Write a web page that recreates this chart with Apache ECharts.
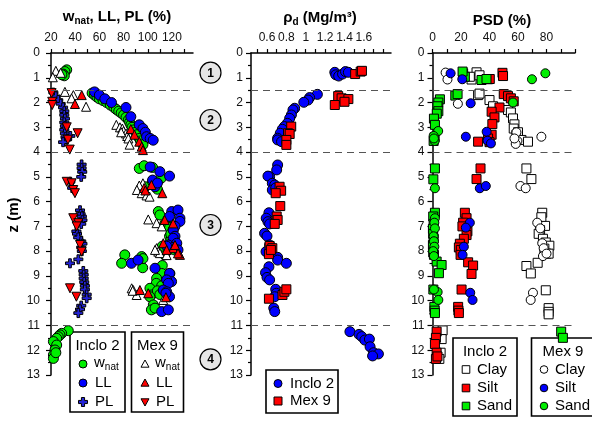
<!DOCTYPE html>
<html><head><meta charset="utf-8">
<script src="https://cdn.jsdelivr.net/npm/echarts@6/dist/echarts.min.js"></script>
<style>html,body{margin:0;padding:0;background:#fff}#c{width:592px;height:421px}</style>
</head><body><div id="c"></div>
<script>
// ---------- data: [value, depth z (m)] ----------
const zTicks = [0,1,2,3,4,5,6,7,8,9,10,11,12,13];
const boundaries = [1.5, 4, 11];
const p1Labels = [20,40,60,80,100,120];
const p2Labels = [0.6,0.8,1,1.2,1.4,1.6];
const p3Labels = [0,20,40,60,80];

// Panel 1: w_nat, LL, PL (%)
const i2Wnat = [[33,0.68],[31.5,0.75],[30,0.85],[31,0.92],[29,0.88],
[54,1.62],[56,1.7],[58,1.78],[60,1.85],[63,1.92],[66,2.0],[69,2.1],[72,2.2],[74,2.28],[76,2.35],[78,2.42],[80,2.5],[82,2.6],[84,2.7],[85,2.8],[86,2.9],[87,3.0],[89,3.1],[90,3.2],[91,3.3],[93,3.45],[94,3.55],[96,3.7],
[93,4.66],[97,4.55],[104,4.62],[111,5.06],[98,5.4],[104,5.2],[108,5.5],
[108.7,6.4],[110,6.54],[116.7,6.7],[114,6.9],[118,7.05],[121,7.15],[118,7.4],[119,7.55],[121,7.6],[116,7.9],[114,8.15],[112,7.8],[119,7.3],[122,7.95],
[81,8.15],[78.4,8.49],[95,8.22],[95.8,8.67],[112,8.58],[96,8.3],
[111.5,8.9],[118.3,8.9],[107.3,9.1],[107,9.3],[101.8,9.5],[103,9.77],[101.8,9.84],[104.6,10.17],[103,10.37],[111.5,9.4],[108,9.6],[106,10.3],[110,9.75],
[34.3,11.21],[28.8,11.32],[27.4,11.38],[26,11.45],[24.7,11.52],[22,11.65],[24.7,11.79],[23.3,11.99],[22,12.19],[22,12.33],[24,12.1]];
const i2LL = [[56,1.57],[60,1.7],[64.5,1.85],[70,2.0],[82,2.2],[86,2.57],[93,2.9],[96,3.05],[98,3.2],[99,3.38],[102,3.45],[104.5,3.52],
[102,4.6],[110,4.79],[118,4.97],[104,5.13],[106,5.4],[108,5.25],
[119.8,6.4],[125,6.34],[118,6.6],[126.6,6.67],[126.6,6.8],[122.5,7.0],[121,7.15],[122.5,7.4],[121,7.48],[117,7.75],[124,7.68],[125,7.95],[121,7.85],[115.6,7.8],
[86.5,8.49],[92,8.36],[106,8.69],
[118,8.9],[119.7,9.23],[115.6,9.16],[117,9.3],[112.8,9.57],[115.6,9.64],[118,9.84],[111.5,10.44],[117,10.37],[115,9.7]];
const i2PL = [[22,1.6],[24,1.75],[26,1.9],[28,2.05],[30,2.2],[31,2.35],[31,2.5],[31.5,2.65],[31,2.8],[31.5,2.95],[31,3.1],[31.5,3.25],[32,3.4],[33,3.5],[36,3.35],[30,3.6],
[45.3,4.5],[45.3,4.65],[45.8,4.8],[45,5.0],[36,5.2],[37.5,5.45],
[44,6.35],[44.5,6.5],[45.5,6.6],[46,6.75],[45,6.9],[41,7.2],[41.5,7.3],[42.5,7.45],[45,7.6],[46,7.7],[45,7.85],[45.5,8.0],[35.7,8.49],[42.6,8.33],
[46.7,8.8],[47,8.95],[47,9.1],[47.5,9.25],[48,9.4],[48,9.55],[49.5,9.75],[49.5,9.9],[45,10.2],[44,10.35],[42.6,10.5]];
const m9Wnat = [[24,0.72],[21.5,0.98],[28,0.8],
[31.5,1.57],[38.5,1.7],[37,1.83],[49,2.17],
[74,2.9],[77,3.0],[79,3.05],[80,3.15],[82,3.25],[83,3.35],[84,3.45],[85,3.7],[78,3.2],
[96,5.26],[93,5.35],[91,5.53],[95,5.66],[99,5.75],[101.5,5.8],
[100.4,6.72],[107.3,6.87],[111.5,7.0],[107.3,7.88],[108.7,8.02],[110,8.08],[115.6,8.16],[106,7.95],
[86.7,9.5],[88,9.57],[90.8,9.77],[112.8,9.97],[87.5,9.6]];
const m9LL = [[45.4,1.7],[39.8,2.06],
[86,3.07],[89,3.3],[93,3.58],[95,3.78],[96,3.92],
[103,5.33],[97,5.45],[98,5.55],[112,5.66],
[114,6.74],[121,6.88],[112.8,7.68],[121,7.88],[126.6,8.15],[115.6,7.95],[122.5,7.75],[125,8.09],
[93.5,9.57],[100.4,9.7],[115,9.86]];
const m9PL = [[20.5,1.62],[21,1.97],[21,2.1],[33,3.0],[42,3.24],[34,3.5],[35.5,3.9],
[33,5.2],[37,5.26],[38.4,5.53],[39.8,5.66],
[38.4,6.67],[42.6,6.87],[41.2,7.0],[44,7.75],[45.3,8.02],
[35.7,9.5],[41,9.84]];

// Panel 2: rho_d (Mg/m3)
const i2Rho = [[1.30,0.78],[1.31,0.88],[1.34,0.93],[1.38,0.85],[1.41,0.75],[1.44,0.78],
[1.12,1.67],[1.04,1.8],[1.024,1.9],[0.98,1.99],[0.886,2.23],[0.868,2.3],[0.852,2.5],[0.834,2.64],[0.81,2.84],[0.78,2.97],[0.758,3.08],[0.737,3.24],[0.71,3.44],[0.71,3.51],[0.75,3.58],
[0.71,4.52],[0.70,4.72],[0.627,4.99],[0.61,4.97],[0.655,5.26],[0.68,5.33],[0.655,5.53],[0.69,5.45],
[0.62,6.45],[0.592,6.67],[0.61,6.81],[0.627,6.9],[0.575,7.28],[0.6,7.39],
[0.627,7.75],[0.59,8.02],[0.71,8.25],[0.71,8.36],[0.80,8.49],[0.62,8.63],
[0.585,8.87],[0.6,9.06],[0.627,9.16],[0.69,9.54],[0.696,9.7],[0.68,9.84],[0.67,10.3],[0.68,10.44],
[1.456,11.25],[1.55,11.36],[1.578,11.45],[1.61,11.59],[1.657,11.55],[1.664,11.86],[1.70,12.1],[1.75,12.15],[1.69,12.23]];
const m9Rho = [[1.51,0.85],[1.567,0.75],[1.58,0.72],
[1.335,1.74],[1.37,1.83],[1.44,1.86],[1.40,1.97],[1.30,2.1],
[0.85,2.97],[0.817,3.24],[0.834,3.27],[0.80,3.51],[0.80,3.71],
[0.73,5.4],[0.746,5.56],[0.69,5.66],[0.737,6.18],
[0.70,6.6],[0.71,6.74],[0.68,6.9],
[0.627,7.79],[0.655,7.88],[0.62,8.12],[0.64,7.95],
[0.62,9.92],[0.76,9.77],[0.78,9.64],[0.80,9.54]];

// Panel 3: PSD (%)
const i2Clay = [[30.9,0.78],[27.4,1.07],[26.2,0.96],[33,0.9],
[32,1.7],[33,1.64],[40,1.9],[42.5,2.15],[53,2.3],[55,2.4],[56.5,2.64],[57.5,2.88],[57,3.05],[58.9,3.3],[60,3.2],[62.4,3.51],[67,3.58],
[65.9,4.66],[69.4,5.09],
[77,6.45],[76.4,6.63],[79,6.98],[75.5,7.15],[74.5,7.3],[77.5,7.5],[79.5,7.65],[82,7.78],[78.5,7.9],[80,8.1],[81.5,8.1],[73.8,8.47],[65.9,8.6],[69,8.9],
[79.5,9.58],[81.5,10.3],[81.5,10.45],[81.5,10.55],
[7.1,11.2],[6.4,11.55],[5.7,12.1],[4.8,12.35]];
const i2Silt = [[39,1.06],[49.1,0.8],[49.5,0.93],[40.2,1.05],
[50,1.66],[53,1.74],[55,1.83],[57,1.95],[47,2.2],[41.5,2.37],[43.5,2.6],[42,2.87],[41.5,3.3],[39,3.45],[32,3.58],[40,3.6],
[33.7,4.66],[30.9,5.09],
[22.7,6.45],[23.9,6.67],[21.5,6.85],[21,7.0],[24.5,7.2],[23.9,7.35],[22,7.5],[19.2,7.7],[18.5,7.85],[19.9,7.95],[19.7,8.15],[25,8.45],[28.5,8.58],[27.4,8.92],
[20.4,9.55],[18,10.25],[18.2,10.4],[18.5,10.5],
[2.9,11.25],[2.4,11.5],[1.7,11.75],[2.9,12.1],[2.4,12.35],[3.5,12.25]];
const i2Sand = [[21.5,0.82],[22.7,0.96],[34.4,1.09],[37.9,1.05],[21.1,0.75],
[16,1.72],[17.6,1.66],[5.2,1.87],[4.1,2.0],[3.5,2.15],[4.1,2.35],[3,2.45],[1,2.65],[1.7,2.9],[0.8,3.55],[1.5,3.4],
[1.7,4.66],[0.6,5.1],
[1.7,6.45],[0.5,6.6],[0.8,6.9],[0.3,7.1],[0.5,7.3],[0.8,7.5],[0.3,7.75],[0.5,8.05],[1,8.15],[2.9,8.42],[6.4,8.56],[4.5,8.89],
[0.6,9.55],[1.3,10.25],[1.5,10.4],[1.7,10.5],
[90.3,11.25],[91.5,11.5]];
const m9Clay = [[9.2,0.79],[10.5,1.07],
[17.8,2.05],[58.9,3.2],[59.6,3.55],[58.4,3.67],[76.4,3.38],[57.5,3.45],
[61.7,5.37],[65.4,5.46],
[73.5,6.85],[75.6,7.08],[77,7.68],[78,7.88],[77.5,8.2],[80,8.1],
[70.5,9.68],[68.9,9.97]];
const m9Silt = [[12.7,0.82],[20.9,1.06],
[26.8,2.03],[23.4,3.38],[38,3.18],[38.6,3.54],[41,3.65],
[33.2,5.46],[37.4,5.37],
[26.2,6.85],[23.4,7.05],[22,7.82],[21.1,8.15],
[26.5,9.68],[28.1,9.97]];
const m9Sand = [[69.8,1.06],[79.2,0.82],
[56.5,2.0],[4,3.15],[0.8,3.35],[1.5,3.55],[1,3.45],
[1.7,5.46],
[1.7,6.67],[1.3,6.85],[1.7,7.08],[0.8,7.4],[1,7.6],[1.3,7.82],[0.5,8.0],[1,8.2],
[3.6,9.65],[4.1,9.97],[1,9.55]];

// ---------- styling ----------
const FONT = 'Liberation Sans, Arial, sans-serif';
const GREEN = '#00ee00', BLUE = '#0000ff', RED = '#ff0000', PLUSC = '#2424d8';
const PLUS = 'path://M35,0H65V35H100V65H65V100H35V65H0V35H35Z';
const TRI_DN = 'path://M0,0L100,0L50,87Z';
const TRI_UP = 'path://M50,0L100,87L0,87Z';

const chart = echarts.init(document.getElementById('c'), null, {renderer: 'canvas'});

const grids = [
  {left: 51, top: 53, width: 142, height: 322},
  {left: 251, top: 53, width: 140, height: 322},
  {left: 432.5, top: 53, width: 142.5, height: 322}
];
function range(a, b, s) { const r = []; for (let v = a; v <= b + 1e-9; v += s) r.push(+v.toFixed(3)); return r; }
function xAx(i, min, max, labels, ticks, fmt) {
  return {
    gridIndex: i, type: 'value', position: 'top', min, max,
    axisLine: {show: true, onZero: false, lineStyle: {color: '#000', width: 1.5}},
    axisTick: {show: true, length: 4, lineStyle: {color: '#000', width: 1.2}, customValues: ticks},
    axisLabel: {show: true, customValues: labels, margin: 9, fontSize: 12, color: '#111', fontFamily: FONT,
      formatter: fmt || (v => String(v))},
    splitLine: {show: false}
  };
}
function yAx(i, margin) {
  return {
    gridIndex: i, type: 'value', inverse: true, min: 0, max: 13, interval: 1,
    axisLine: {show: true, onZero: false, lineStyle: {color: '#000', width: 1.5}},
    axisTick: {show: true, length: 5, lineStyle: {color: '#000', width: 1.2}},
    minorTick: {show: true, splitNumber: 2, length: 3, lineStyle: {color: '#000', width: 1.2}},
    axisLabel: {margin, fontSize: 12, color: '#111', fontFamily: FONT},
    splitLine: {show: false}
  };
}
function sc(i, data, symbol, size, color, rotate) {
  return {
    type: 'scatter', xAxisIndex: i, yAxisIndex: i, data, symbol, symbolSize: size,
    symbolRotate: rotate || 0, clip: false, silent: true,
    itemStyle: {color, borderColor: '#000', borderWidth: 1, opacity: 1}
  };
}
function dashLines(s) {
  s.markLine = {silent: true, symbol: 'none', label: {show: false},
    lineStyle: {color: '#555', type: [7, 5], width: 1.2},
    data: boundaries.map(b => ({yAxis: b}))};
  return s;
}

const series = [
  dashLines(sc(0, i2Wnat, 'circle', 10, GREEN)),
  sc(0, i2LL, 'circle', 10, BLUE),
  sc(0, i2PL, PLUS, 9, PLUSC),
  sc(0, m9Wnat, TRI_UP, 9, '#fff'),
  sc(0, m9LL, TRI_UP, 9, RED),
  sc(0, m9PL, TRI_DN, 9, RED),
  dashLines(sc(1, i2Rho, 'circle', 10, BLUE)),
  sc(1, m9Rho, 'rect', 9, RED),
  dashLines(sc(2, i2Clay, 'rect', 9, '#fff')),
  sc(2, i2Silt, 'rect', 9, RED),
  sc(2, i2Sand, 'rect', 9, GREEN),
  sc(2, m9Clay, 'circle', 9, '#fff'),
  sc(2, m9Silt, 'circle', 9, BLUE),
  sc(2, m9Sand, 'circle', 9, GREEN)
];

// ---------- graphic: titles, legends, zone labels ----------
const g = [];
function txt(x, y, text, opt) {
  g.push(Object.assign({type: 'text', x, y, silent: true,
    style: Object.assign({text, fontFamily: FONT, fontSize: 15, fill: '#000', align: 'left', verticalAlign: 'middle'}, opt || {})}));
}
const subRich = {
  a: {fontSize: 15, fontWeight: 'bold', fontFamily: FONT, verticalAlign: 'top', lineHeight: 18},
  b: {fontSize: 10, fontWeight: 'bold', fontFamily: FONT, verticalAlign: 'top', lineHeight: 18, padding: [7, 0, 0, 0]}
};
g.push({type: 'text', x: 117, y: 18, silent: true, style: {text: '{a|w}{b|nat}{a|, LL, PL (%)}', rich: subRich, align: 'center', verticalAlign: 'middle'}});
g.push({type: 'text', x: 320, y: 19, silent: true, style: {text: '{a|ρ}{b|d}{a| (Mg/m³)}', rich: subRich, align: 'center', verticalAlign: 'middle'}});
txt(502, 21, 'PSD (%)', {fontWeight: 'bold', align: 'center'});
g.push({type: 'text', x: 14, y: 215, rotation: Math.PI / 2, silent: true,
  style: {text: 'z (m)', fontFamily: FONT, fontSize: 15, fontWeight: 'bold', fill: '#000', align: 'center', verticalAlign: 'middle'}});

// zone circles
[['1', 72.7], ['2', 120], ['3', 225], ['4', 359.3]].forEach(([t, y]) => {
  g.push({type: 'circle', shape: {cx: 210.5, cy: y, r: 10.5}, silent: true, style: {fill: '#e6e6e6', stroke: '#000', lineWidth: 1.2}});
  txt(210.5, y + 0.5, t, {fontWeight: 'bold', fontSize: 12, align: 'center'});
});

function box(x, y, w, h) {
  g.push({type: 'rect', shape: {x, y, width: w, height: h}, silent: true, style: {fill: '#fff', stroke: '#000', lineWidth: 1.6}});
}
function mark(kind, cx, cy, color, s) {
  s = s || 4;
  let el;
  if (kind === 'circle') el = {type: 'circle', shape: {cx, cy, r: s}};
  else if (kind === 'rect') el = {type: 'rect', shape: {x: cx - s, y: cy - s, width: 2 * s, height: 2 * s}};
  else if (kind === 'up') el = {type: 'polygon', shape: {points: [[cx, cy - s], [cx + s, cy + s * 0.8], [cx - s, cy + s * 0.8]]}};
  else if (kind === 'down') el = {type: 'polygon', shape: {points: [[cx - s, cy - s * 0.8], [cx + s, cy - s * 0.8], [cx, cy + s]]}};
  else if (kind === 'plus') {
    const a = s, b = s * 0.35;
    el = {type: 'polygon', shape: {points: [[cx - b, cy - a], [cx + b, cy - a], [cx + b, cy - b], [cx + a, cy - b], [cx + a, cy + b], [cx + b, cy + b], [cx + b, cy + a], [cx - b, cy + a], [cx - b, cy + b], [cx - a, cy + b], [cx - a, cy - b], [cx - b, cy - b]]}};
  }
  el.silent = true;
  el.style = {fill: color, stroke: '#000', lineWidth: 1};
  g.push(el);
}
const wRich = {a: {fontSize: 15, fontFamily: FONT, verticalAlign: 'top', lineHeight: 18}, b: {fontSize: 10, fontFamily: FONT, verticalAlign: 'top', lineHeight: 18, padding: [7, 0, 0, 0]}};
// panel 1 legends
box(70, 332, 55, 80);
txt(97.5, 346, 'Inclo 2', {align: 'center'});
mark('circle', 83, 364, GREEN); g.push({type: 'text', x: 94, y: 364, silent: true, style: {text: '{a|w}{b|nat}', rich: wRich, verticalAlign: 'middle'}});
mark('circle', 83, 383, BLUE); txt(95, 383, 'LL');
mark('plus', 83, 402, PLUSC, 4.5); txt(95, 402, 'PL');
box(131.5, 332, 52, 80);
txt(157.5, 346, 'Mex 9', {align: 'center'});
mark('up', 145, 364, '#fff'); g.push({type: 'text', x: 155, y: 364, silent: true, style: {text: '{a|w}{b|nat}', rich: wRich, verticalAlign: 'middle'}});
mark('up', 145, 383, RED); txt(156, 383, 'LL');
mark('down', 145, 402, RED); txt(156, 402, 'PL');
// panel 2 legend
box(266, 370, 72, 43);
mark('circle', 278, 383.5, BLUE); txt(290, 383.5, 'Inclo 2');
mark('rect', 278, 401, RED); txt(290, 401, 'Mex 9');
// panel 3 legends
box(453, 338, 64, 78);
txt(485, 352, 'Inclo 2', {align: 'center'});
mark('rect', 466, 369.5, '#fff', 3.8); txt(477, 369.5, 'Clay');
mark('rect', 466, 388, RED, 3.8); txt(477, 388, 'Silt');
mark('rect', 466, 406, GREEN, 3.8); txt(477, 406, 'Sand');
box(531.5, 338, 80, 78);
txt(563, 352, 'Mex 9', {align: 'center'});
mark('circle', 544, 369.5, '#fff', 3.8); txt(555, 369.5, 'Clay');
mark('circle', 544, 388, BLUE, 3.8); txt(555, 388, 'Silt');
mark('circle', 544, 406, GREEN, 3.8); txt(555, 406, 'Sand');

chart.setOption({
  animation: false,
  backgroundColor: '#fff',
  grid: grids,
  xAxis: [
    xAx(0, 20, 137.4, p1Labels, range(20, 130, 10)),
    xAx(1, 0.435, 1.88, p2Labels, range(0.5, 1.8, 0.1), v => String(+v.toFixed(1))),
    xAx(2, 0, 100, p3Labels, range(0, 100, 10))
  ],
  yAxis: [yAx(0, 11), yAx(1, 8), yAx(2, 8)],
  series,
  graphic: g
});
</script>
</body></html>
